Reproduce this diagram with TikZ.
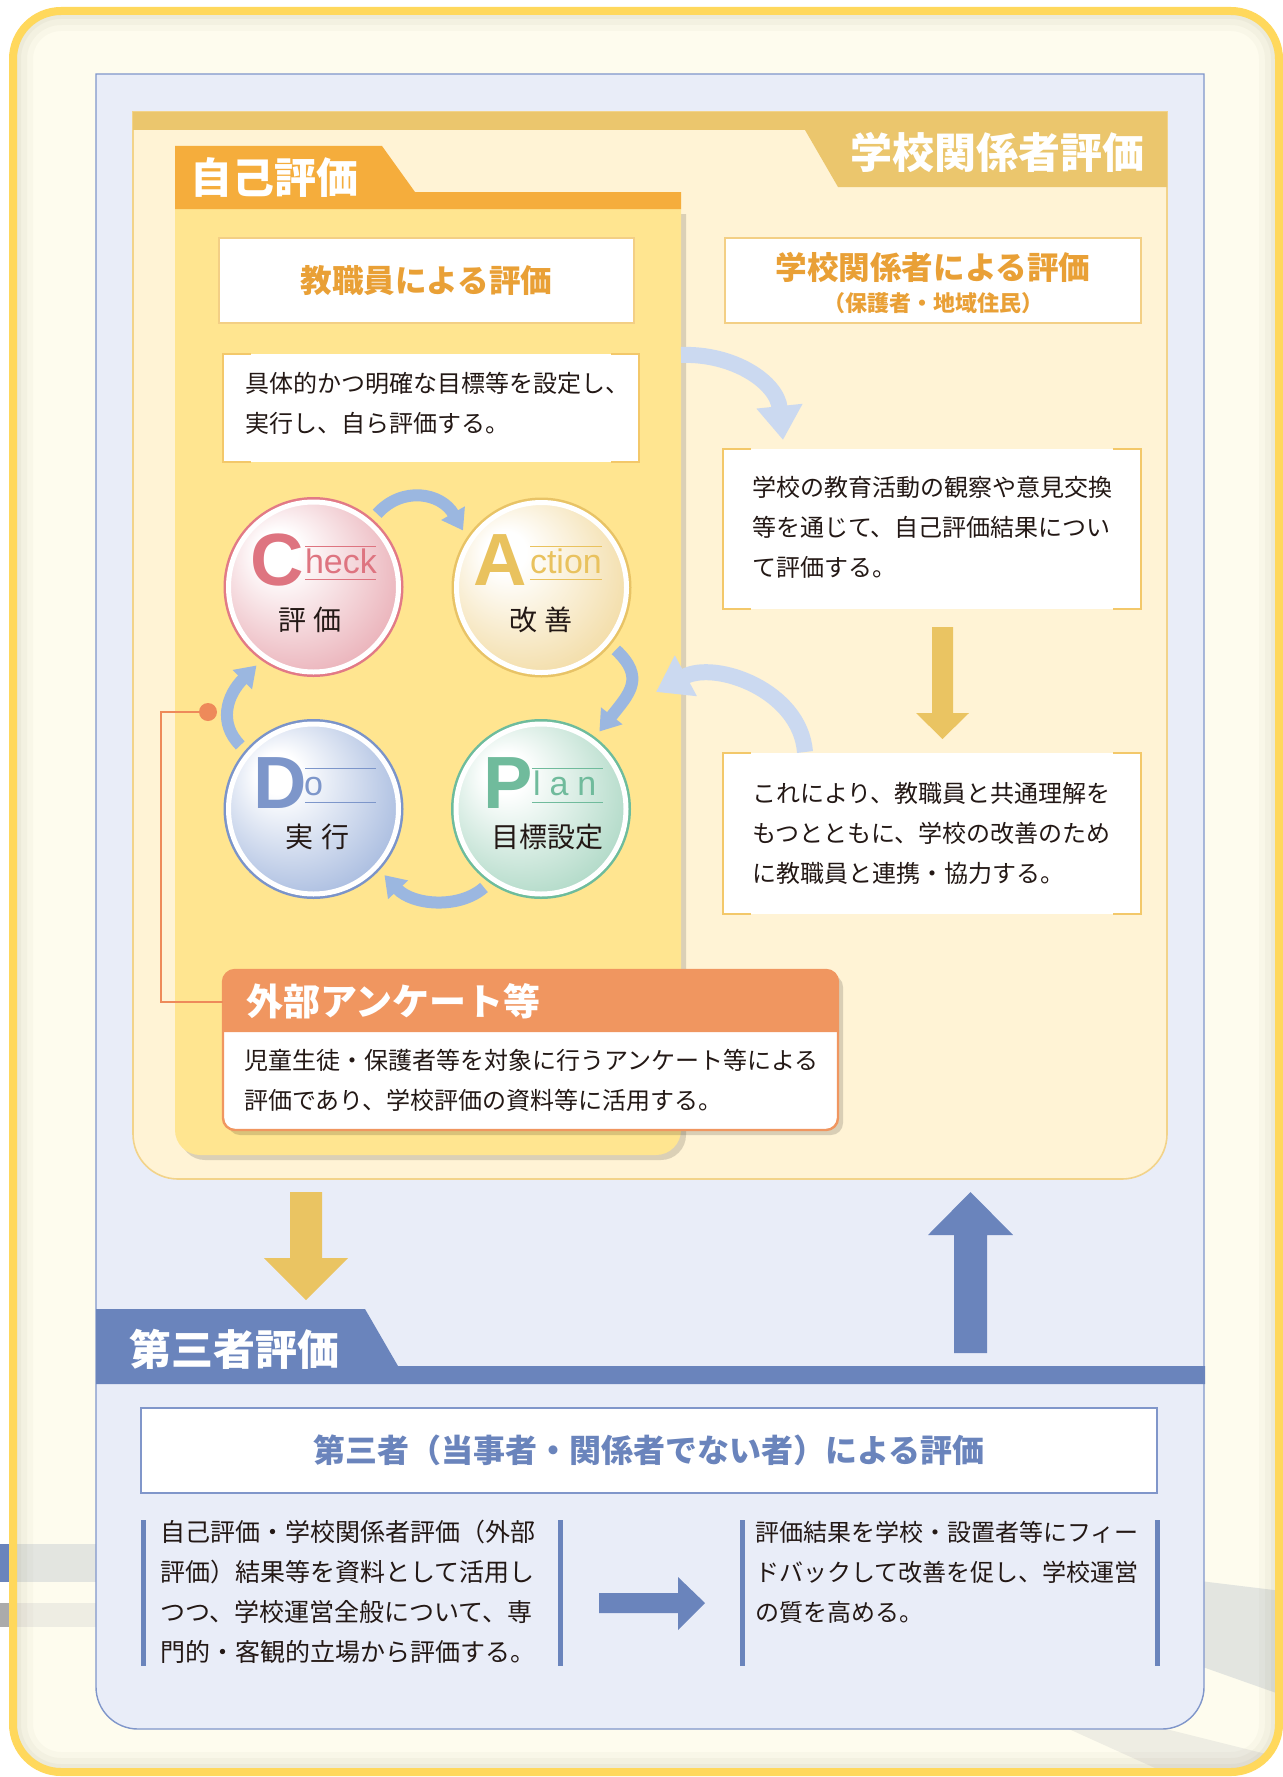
\documentclass[tikz,border=0pt]{standalone}
\usepackage{fontspec}
\setmainfont{Liberation Sans}
\newfontfamily\jp{Noto Sans CJK JP}
\newfontfamily\latb{Liberation Sans}
\usetikzlibrary{arrows.meta,shadows,calc}
\definecolor{frameY}{HTML}{FFD85C}
\definecolor{frameF}{HTML}{FEFCEE}
\definecolor{shadowC}{HTML}{8C8465}
\definecolor{stripeA}{HTML}{E3E5E0}
\definecolor{stripeB}{HTML}{EEEDE3}
\definecolor{blueBG}{HTML}{E9EDF8}
\definecolor{blueLine}{HTML}{8096CA}
\definecolor{blueM}{HTML}{6A84BC}
\definecolor{creamBG}{HTML}{FFF3D5}
\definecolor{creamLine}{HTML}{F2D38A}
\definecolor{creamBand}{HTML}{EBC66D}
\definecolor{selfBG}{HTML}{FFE590}
\definecolor{selfBand}{HTML}{F5AD3C}
\definecolor{headO}{HTML}{E9A036}
\definecolor{hboxLine}{HTML}{F3CF85}
\definecolor{txt}{HTML}{231815}
\definecolor{bracketO}{HTML}{F3C86A}
\definecolor{softB}{HTML}{CBD9F0}
\definecolor{pdB}{HTML}{9BB7E0}
\definecolor{yArrow}{HTML}{EAC462}
\definecolor{svO}{HTML}{F09660}
\definecolor{orL}{HTML}{EE8A5A}
\definecolor{ckB}{HTML}{E27A86}
\definecolor{ckF}{HTML}{E49AA4}
\definecolor{ckL}{HTML}{DE7480}
\definecolor{acB}{HTML}{E8C366}
\definecolor{acF}{HTML}{EFD28C}
\definecolor{acL}{HTML}{E9C25E}
\definecolor{doB}{HTML}{7B94C9}
\definecolor{doF}{HTML}{8FA8D6}
\definecolor{doL}{HTML}{7D96CA}
\definecolor{plB}{HTML}{6EBC9C}
\definecolor{plF}{HTML}{98CEB6}
\definecolor{plL}{HTML}{70BB9C}
\pgfdeclareradialshading{ckshade}{\pgfpoint{-12bp}{12bp}}{color(0bp)=(white);color(6bp)=(white);color(40bp)=(ckF);color(50bp)=(ckF)}
\pgfdeclareradialshading{acshade}{\pgfpoint{-12bp}{12bp}}{color(0bp)=(white);color(6bp)=(white);color(40bp)=(acF);color(50bp)=(acF)}
\pgfdeclareradialshading{doshade}{\pgfpoint{-12bp}{12bp}}{color(0bp)=(white);color(6bp)=(white);color(40bp)=(doF);color(50bp)=(doF)}
\pgfdeclareradialshading{plshade}{\pgfpoint{-12bp}{12bp}}{color(0bp)=(white);color(6bp)=(white);color(40bp)=(plF);color(50bp)=(plF)}
\begin{document}
\begin{tikzpicture}[x=0.5pt,y=-0.5pt,
  every node/.style={inner sep=0pt, outer sep=0pt},
  body/.style={font=\jp\fontsize{12pt}{20pt}\selectfont, text=txt, align=left, anchor=west},
  bodyL/.style={font=\jp\fontsize{12.5pt}{20pt}\selectfont, text=txt, align=left, anchor=west},
  tabtitle/.style={font=\jp\bfseries\fontsize{21pt}{24pt}\selectfont, text=white},
  hbox/.style={draw=hboxLine, line width=0.8pt, fill=white, font=\jp\bfseries\fontsize{15.8pt}{18pt}\selectfont, text=headO},
  wbox/.style={fill=white},
  bracket/.style={draw=bracketO, line width=1pt},
  softarrow/.style={draw=softB, line width=8pt, -{Triangle[width=22pt,length=17pt]}},
  pdarrow/.style={draw=pdB, line width=6pt, -{Triangle[width=13pt,length=10pt]}},
  pdca/.style={circle, minimum size=85pt, outer sep=6pt, draw=white, line width=2.5pt, shade,
     drop shadow={opacity=0.22, shadow xshift=1.5pt, shadow yshift=-2pt}},
  bigl/.style={anchor=base west, font=\latb\bfseries\fontsize{37pt}{37pt}\selectfont},
  smalll/.style={anchor=base west, font=\latb\fontsize{17pt}{17pt}\selectfont},
  pdlabel/.style={font=\jp\fontsize{14pt}{16pt}\selectfont, text=txt},
  orline/.style={draw=orL, line width=1pt},
  bbar/.style={draw=blueM, line width=2.5pt},
  yblock/.style={fill=yArrow},
  bblock/.style={fill=blueM}
]
\fill[white] (0,0) rectangle (1282,1777);
\useasboundingbox (0,0) rectangle (1282,1777);
% stripes outside frame
\fill[blueM] (0,1544) rectangle (14,1582);
\fill[black!33] (0,1603) rectangle (14,1627);
% outer frame
\fill[frameF, rounded corners=24pt] (13,11) rectangle (1279,1772);
\begin{scope}
  \clip[rounded corners=24pt] (13,11) rectangle (1279,1772);
  \fill[stripeA] (14,1544) rectangle (100,1582);
  \fill[stripeB] (14,1603) rectangle (100,1627);
  \fill[stripeA] (1200,1581) -- (1282,1591) -- (1282,1695) -- (1200,1666) -- cycle;
  \fill[stripeB] (1060,1725) -- (1150,1725) -- (1282,1758) -- (1282,1777) -- (1175,1777) -- cycle;
  \foreach \w/\o in {20/0.04,14/0.05,8/0.06,4/0.07}
    {\draw[shadowC, opacity=\o, line width=\w pt, rounded corners=24pt] (13,11) rectangle (1279,1772);}
\end{scope}
\draw[frameY, line width=4pt, rounded corners=24pt] (13,11) rectangle (1279,1772);
% blue panel
\filldraw[fill=blueBG, draw=blueLine, line width=0.7pt] (96,74) -- (1204,74) -- (1204,1687) arc[start angle=0,end angle=90,radius=42] -- (138,1729) arc[start angle=90,end angle=180,radius=42] -- cycle;
% cream panel
\filldraw[fill=creamBG, draw=creamLine, line width=0.8pt] (133,112) -- (1167,112) -- (1167,1134) arc[start angle=0,end angle=90,radius=45] -- (178,1179) arc[start angle=90,end angle=180,radius=45] -- cycle;
\fill[creamBand] (133,112) rectangle (1167,130);
\fill[creamBand] (805,130) -- (1167,130) -- (1167,187) -- (838,187) -- cycle;
\node[tabtitle] (gkh) at (997,152) {学校関係者評価};
% self panel shadow
\begin{scope}[shift={(5,5)}]
  \fill[black, opacity=0.14] (175,209) -- (681,209) -- (681,1130) arc[start angle=0,end angle=90,radius=25] -- (200,1155) arc[start angle=90,end angle=180,radius=25] -- cycle;
\end{scope}
\fill[selfBG] (175,209) -- (681,209) -- (681,1130) arc[start angle=0,end angle=90,radius=25] -- (200,1155) arc[start angle=90,end angle=180,radius=25] -- cycle;
\fill[selfBand] (175,146) -- (382,146) -- (415,192) -- (681,192) -- (681,209) -- (175,209) -- cycle;
\node[tabtitle] (jiko) at (274,178) {自己評価};
% heading boxes
\node[hbox, minimum width=207.5pt, minimum height=42.5pt] (kyo) at (426.5,280.5) {教職員による評価};
\node[hbox, minimum width=208pt, minimum height=42.5pt] (kankei) at (933,280.5) {};
\node[font=\jp\bfseries\fontsize{15.8pt}{18pt}\selectfont, text=headO] (kankeiT) at (933,267) {学校関係者による評価};
\node[font=\jp\bfseries\fontsize{11pt}{13pt}\selectfont, text=headO] (kankeiS) at (933,303) {（保護者・地域住民）};
% white bracket boxes
\node[wbox, minimum width=208pt, minimum height=54pt] (gutai) at (431,408) {};
\node[wbox, minimum width=209pt, minimum height=80pt] (boxA) at (932,529) {};
\node[wbox, minimum width=209pt, minimum height=80.5pt] (boxB) at (932,833.5) {};
\foreach \n in {gutai,boxA,boxB}{
  \draw[bracket] ($(\n.north west)+(28,0)$) -- (\n.north west) -- (\n.south west) -- ($(\n.south west)+(28,0)$);
  \draw[bracket] ($(\n.north east)+(-28,0)$) -- (\n.north east) -- (\n.south east) -- ($(\n.south east)+(-28,0)$);
}
\node[body] (gutaiT) at (245,403) {具体的かつ明確な目標等を設定し、\\実行し、自ら評価する。};
\node[body] (boxAT) at (752,527) {学校の教育活動の観察や意見交換\\等を通じて、自己評価結果につい\\て評価する。};
\node[body] (boxBT) at (752,833) {これにより、教職員と共通理解を\\もつとともに、学校の改善のため\\に教職員と連携・協力する。};
% yellow arrow between boxes
\fill[yblock] (932,627) -- (953,627) -- (953,713) -- (969,713) -- (942.5,739) -- (916,713) -- (932,713) -- cycle;
% curved arrows right column
\coordinate (a1s) at (681,355);
\coordinate (a1e) at (783,440);
\draw[softarrow] (a1s) .. controls +(52,-2) and +(-6,-58) .. (a1e);
\coordinate (a2s) at (805,752);
\coordinate (a2e) at (656,692);
\draw[softarrow] (a2s) .. controls +(-5,-62) and +(59,-32) .. (a2e);
% PDCA circles
\node[pdca, shading=ckshade, preaction={draw=ckB, line width=5pt}] (check) at (313.5,587) {};
\node[pdca, shading=acshade, preaction={draw=acB, line width=5pt}] (act) at (541.5,587.5) {};
\node[pdca, shading=doshade, preaction={draw=doB, line width=5pt}] (do) at (313.5,809) {};
\node[pdca, shading=plshade, preaction={draw=plB, line width=5pt}] (plan) at (541,809) {};
% letters
\node[bigl, text=ckL] (cC) at (250,585) {C};
\node[smalll, text=ckL] (cH) at (305,573) {heck};
\draw[ckL, line width=0.5pt] (305,546) -- (376,546) (305,579) -- (376,579);
\node[pdlabel] (cK) at (310,620) {評\hspace{4pt}価};
\node[bigl, text=acL] (aA) at (473,585) {A};
\node[smalll, text=acL] (aH) at (530,573) {ction};
\draw[acL, line width=0.5pt] (530,546) -- (602,546) (530,579) -- (602,579);
\node[pdlabel] (aK) at (541,620) {改\hspace{4pt}善};
\node[bigl, text=doL] (dD) at (253,808) {D};
\node[smalll, text=doL] (dH) at (304,795) {o};
\draw[doL, line width=0.5pt] (305,768) -- (376,768) (305,802) -- (376,802);
\node[pdlabel] (dK) at (317.5,837) {実\hspace{4pt}行};
\node[bigl, text=plL] (pP) at (483,808) {P};
\node[smalll, text=plL] (pH) at (533,795) {l\hspace{4.5pt}a\hspace{4.5pt}n};
\draw[plL, line width=0.5pt] (532,768) -- (603,768) (532,802) -- (603,802);
\node[pdlabel] (pK) at (547.5,837) {目標設定};
% PDCA arrows
\draw[pdarrow] (check.49) .. controls +(25,-28) and +(-22,-38) .. (act.144);
\draw[pdarrow] (act.-40) .. controls +(30,28) and +(30,-38) .. (plan.53);
\draw[pdarrow] (plan.-126) .. controls +(-25,22) and +(28,30) .. (do.-43);
\draw[pdarrow] (do.139) .. controls +(-22,-22) and +(-30,30) .. (check.-126);
% survey box
\fill[black, opacity=0.15, rounded corners=6pt] (228,975) rectangle (843,1135);
\node[draw=svO, line width=1.2pt, fill=white, rounded corners=6pt, minimum width=307.5pt, minimum height=80pt] (survey) at (530.5,1050) {};
\fill[svO] (223,1032) -- (223,982) arc[start angle=180,end angle=270,radius=12] -- (826,970) arc[start angle=270,end angle=360,radius=12] -- (838,1032) -- cycle;
\node[font=\jp\bfseries\fontsize{18.5pt}{21pt}\selectfont, text=white, anchor=west] (svT) at (246,1001) {外部アンケート等};
\node[body] (svB) at (244,1080) {児童生徒・保護者等を対象に行うアンケート等による\\評価であり、学校評価の資料等に活用する。};
% orange connector
\node[circle, fill=orL, minimum size=9pt] (odot) at (208,712) {};
\coordinate (obend) at (161,712);
\coordinate (ojoin) at (223,1002);
\draw[orline] (odot) -- (obend) |- (ojoin);
% big arrows between sections
\fill[yblock] (290,1192) -- (322,1192) -- (322,1258) -- (348,1258) -- (306,1300) -- (264,1258) -- (290,1258) -- cycle;
\fill[bblock] (954,1353) -- (987,1353) -- (987,1235) -- (1013,1235) -- (970.5,1192) -- (928,1235) -- (954,1235) -- cycle;
% third-party section
\fill[blueM] (96,1309) -- (365,1309) -- (398,1366) -- (1205,1366) -- (1205,1384) -- (96,1384) -- cycle;
\node[tabtitle] (dsk) at (234,1349) {第三者評価};
\node[draw=blueLine, line width=0.8pt, fill=white, minimum width=508pt, minimum height=42.5pt, font=\jp\bfseries\fontsize{16pt}{18pt}\selectfont, text=blueM] (dsb) at (649,1450.5) {第三者（当事者・関係者でない者）による評価};
\draw[bbar] (143,1520) -- (143,1666);
\draw[bbar] (560,1520) -- (560,1666);
\draw[bbar] (742,1520) -- (742,1666);
\draw[bbar] (1157,1520) -- (1157,1666);
\node[bodyL] (dsL) at (160,1592) {自己評価・学校関係者評価（外部\\評価）結果等を資料として活用し\\つつ、学校運営全般について、専\\門的・客観的立場から評価する。};
\node[body] (dsR) at (755,1572) {評価結果を学校・設置者等にフィー\\ドバックして改善を促し、学校運営\\の質を高める。};
\fill[bblock] (599,1593) -- (678,1593) -- (678,1577) -- (705,1603) -- (678,1630) -- (678,1613) -- (599,1613) -- cycle;
\end{tikzpicture}
\end{document}
